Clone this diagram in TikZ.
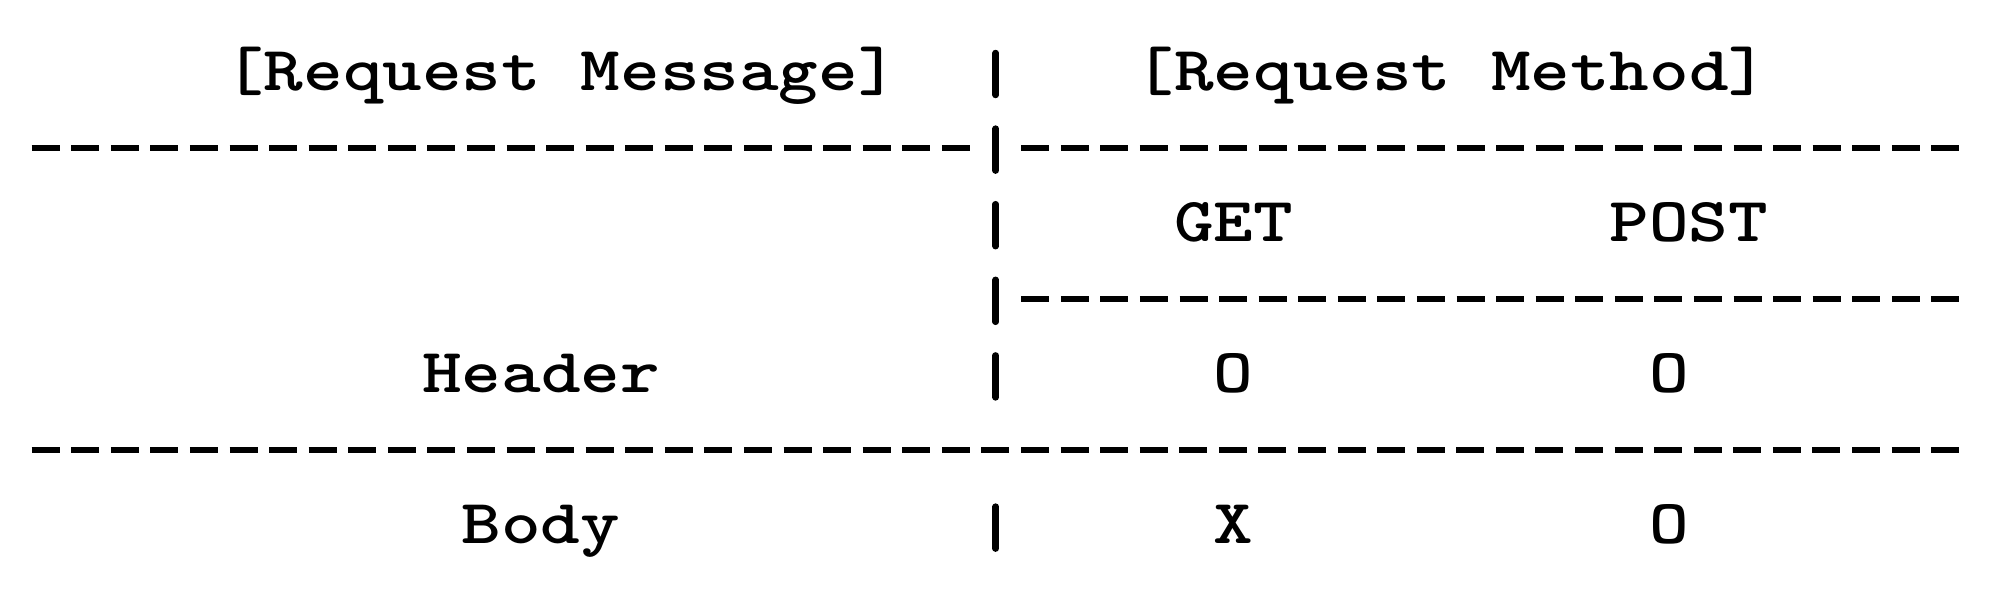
\documentclass[tikz,border=0pt]{standalone}
\usepackage{graphicx}
\usetikzlibrary{positioning}
\newcommand{\cellw}{39.58}
\newcommand{\colx}[1]{26+#1*\cellw}
\newcommand{\rowy}[1]{90+#1*75.6}
\newcommand{\mono}[1]{\scalebox{1.203}[1]{#1}}
\begin{document}
\begin{tikzpicture}[x=0.02cm, y=-0.02cm,
        cellText/.style={inner sep=0pt, anchor=base west, font=\fontsize{35.7}{40}\selectfont\ttfamily\bfseries},
        dashRule/.style={line width=0.12cm, dash pattern=on 0.56cm off 0.2316cm},
        barRule/.style={line width=0.13cm, line cap=round}]
    \useasboundingbox (0,0) rectangle (2000,612);
    \node[cellText] (msgTitle) at ({\colx{5}},{\rowy{0}}) {\mono{[Request Message]}};
    \node[cellText] (methodTitle) at ({\colx{28}},{\rowy{0}}) {\mono{[Request Method]}};
    \node[cellText] (getHead) at ({\colx{29}},{\rowy{2}}) {\mono{GET}};
    \node[cellText] (postHead) at ({\colx{40}},{\rowy{2}}) {\mono{POST}};
    \node[cellText] (headerRow) at ({\colx{10}},{\rowy{4}}) {\mono{Header}};
    \node[cellText] (headerGet) at ({\colx{30}},{\rowy{4}}) {\mono{O}};
    \node[cellText] (headerPost) at ({\colx{41}},{\rowy{4}}) {\mono{O}};
    \node[cellText] (bodyRow) at ({\colx{11}},{\rowy{6}}) {\mono{Body}};
    \node[cellText] (bodyGet) at ({\colx{30}},{\rowy{6}}) {\mono{X}};
    \node[cellText] (bodyPost) at ({\colx{41}},{\rowy{6}}) {\mono{O}};
    \foreach \r in {0,1,2,3,4,6}
        \draw[barRule] (995.7,{\rowy{\r}-37}) -- (995.7,{\rowy{\r}+5});
    \draw[dashRule] (31.7,{\rowy{1}-18}) -- (970,{\rowy{1}-18});
    \draw[dashRule] (1021.2,{\rowy{1}-18}) -- (1959.7,{\rowy{1}-18});
    \draw[dashRule] (1021.2,{\rowy{3}-18}) -- (1959.7,{\rowy{3}-18});
    \draw[dashRule] (31.7,{\rowy{5}-18}) -- (1959.7,{\rowy{5}-18});
\end{tikzpicture}
\end{document}
